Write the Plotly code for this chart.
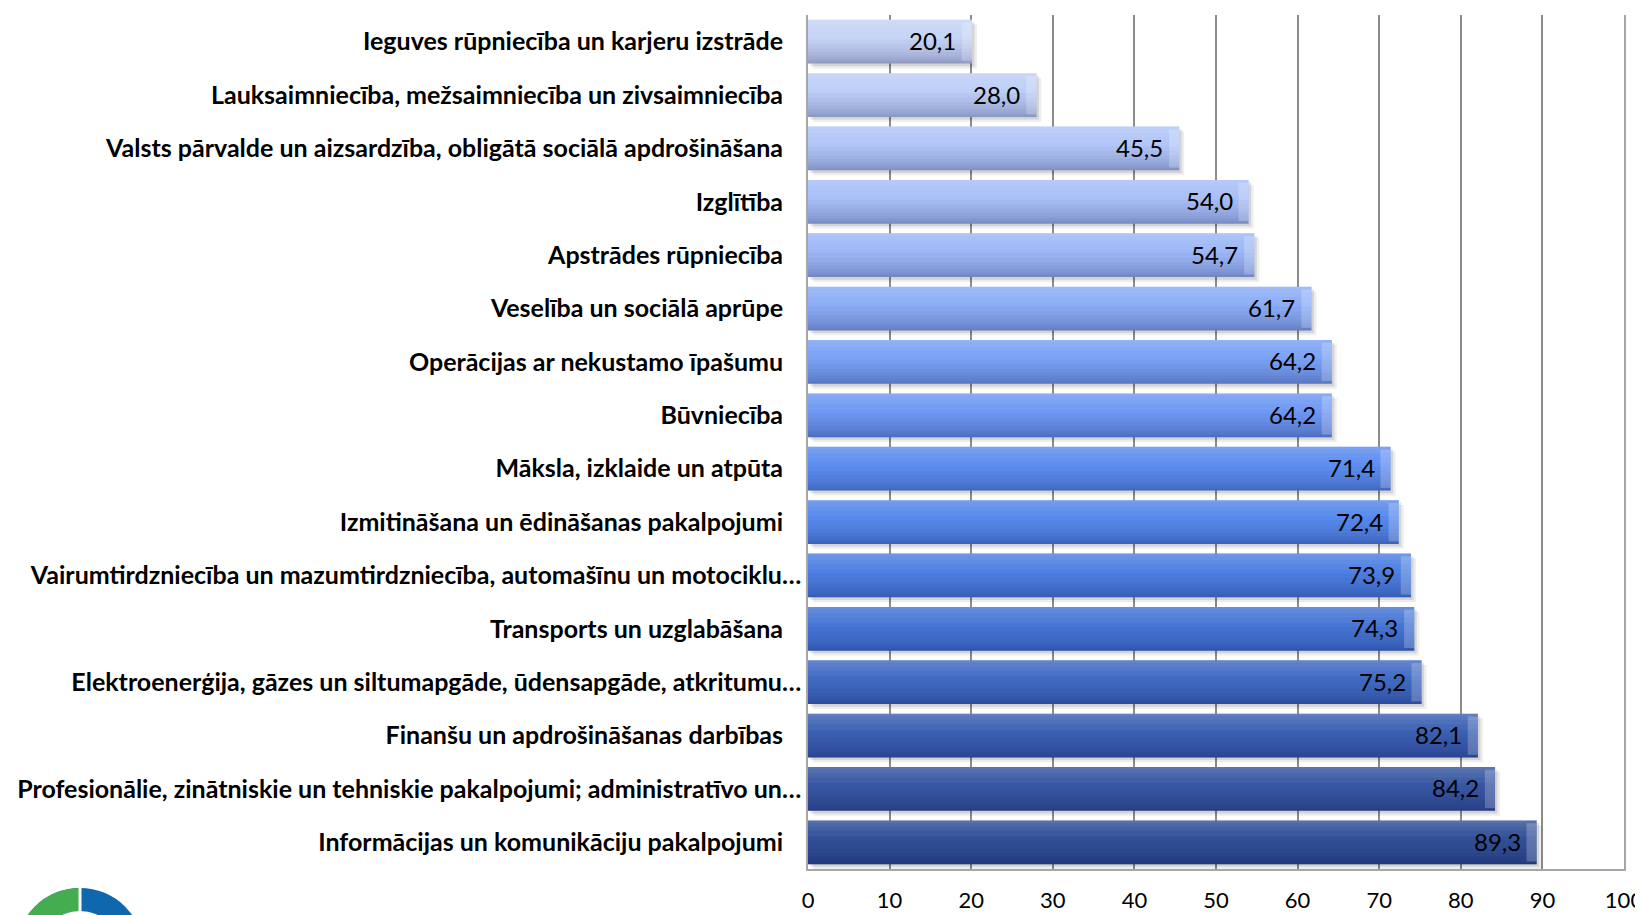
import plotly.graph_objects as go

categories = [
    "Ieguves rūpniecība un karjeru izstrāde",
    "Lauksaimniecība, mežsaimniecība un zivsaimniecība",
    "Valsts pārvalde un aizsardzība, obligātā sociālā apdrošināšana",
    "Izglītība",
    "Apstrādes rūpniecība",
    "Veselība un sociālā aprūpe",
    "Operācijas ar nekustamo īpašumu",
    "Būvniecība",
    "Māksla, izklaide un atpūta",
    "Izmitināšana un ēdināšanas pakalpojumi",
    "Vairumtirdzniecība un mazumtirdzniecība, automašīnu un motociklu…",
    "Transports un uzglabāšana",
    "Elektroenerģija, gāzes un siltumapgāde, ūdensapgāde, atkritumu…",
    "Finanšu un apdrošināšanas darbības",
    "Profesionālie, zinātniskie un tehniskie pakalpojumi; administratīvo un…",
    "Informācijas un komunikāciju pakalpojumi",
]
values = [20.1, 28.0, 45.5, 54.0, 54.7, 61.7, 64.2, 64.2, 71.4, 72.4, 73.9, 74.3, 75.2, 82.1, 84.2, 89.3]
x_ticks = [0, 10, 20, 30, 40, 50, 60, 70, 80, 90, 100]

bar_colors = [
    "#c6d4f6", "#bdcef7", "#b2c7f8", "#a8bff8", "#9eb8f7", "#8cadf6",
    "#7aa2f5", "#6e98f3", "#5d8ef1", "#5689ed", "#4d80e2", "#4776d6",
    "#416bc3", "#3c60b3", "#3757a2", "#325098",
]

keys = list(range(len(categories)))
value_text = [f"{v:.1f}".replace(".", ",") for v in values]
ticktext = [c if c.endswith("…") else c + "\u00a0" * 3 for c in categories]

BW = 0.82
fig = go.Figure()


def overlay(width, offset, color, base=None, xs=None):
    fig.add_trace(go.Bar(y=keys, x=values if xs is None else xs, base=base, orientation="h",
                         width=width, offset=offset,
                         marker=dict(color=color, line=dict(width=0)), hoverinfo="skip"))


# soft drop shadow
overlay(BW, -BW / 2 + 0.09, "rgba(0,0,0,0.07)", base=0.6)
overlay(BW, -BW / 2 + 0.05, "rgba(0,0,0,0.10)", base=0.3)
# main bars
fig.add_trace(go.Bar(y=keys, x=values, orientation="h", width=BW, offset=-BW / 2,
                     marker=dict(color=bar_colors, line=dict(width=0)),
                     hovertemplate="%{x}<extra></extra>"))
# top highlight (gradient)
for w in (0.3, 0.2, 0.12, 0.05):
    overlay(w, -BW / 2, "rgba(255,255,255,0.05)")
# lower shading (gradient)
for w in (0.45, 0.36, 0.28, 0.21, 0.15, 0.1, 0.06, 0.03):
    overlay(w, BW / 2 - w, "rgba(0,0,50,0.035)")
# right bevel
bev = 1.25
overlay(BW - 0.1, -BW / 2 + 0.05, "rgba(255,255,255,0.22)", base=[v - bev for v in values], xs=[bev] * len(values))

for k, v, t in zip(keys, values, value_text):
    fig.add_annotation(x=v, y=k, text=t, showarrow=False, xanchor="right", xshift=-14, yshift=1,
                       font=dict(family="Lato", size=24, color="#000000"))

# logo (decorative), pixel-sized relative to plot bottom-left
cx, cy = -728, -83


def circ(r, color):
    return dict(type="circle", xref="paper", yref="paper", xsizemode="pixel", ysizemode="pixel",
                xanchor=0, yanchor=0, x0=cx - r, x1=cx + r, y0=cy - r, y1=cy + r,
                fillcolor=color, line=dict(width=0), layer="above")


def half(r, color):
    import math
    pts = []
    for i in range(0, 37):
        a = math.pi / 2 + math.pi * i / 36
        pts.append((cx + r * math.cos(a), cy + r * math.sin(a)))
    path = "M " + " L ".join(f"{x:.2f},{y:.2f}" for x, y in pts) + " Z"
    return dict(type="path", xref="paper", yref="paper", xsizemode="pixel", ysizemode="pixel",
                xanchor=0, yanchor=0, path=path, fillcolor=color, line=dict(width=0), layer="above")


def gap(r):
    return dict(type="rect", xref="paper", yref="paper", xsizemode="pixel", ysizemode="pixel",
                xanchor=0, yanchor=0, x0=cx - 1.5, x1=cx + 1.5, y0=cy - r, y1=cy + r,
                fillcolor="white", line=dict(width=0), layer="above")


shapes = [circ(64, "#0f68ad"), half(64, "#43ad4f"), circ(41, "white"),
          circ(33, "#0f68ad"), half(33, "#43ad4f"), circ(26, "white"), gap(66)]

fig.update_layout(
    width=1643, height=915,
    margin=dict(l=800, r=27, t=7, b=54),
    barmode="overlay",
    showlegend=False,
    plot_bgcolor="white",
    paper_bgcolor="white",
    shapes=shapes,
    xaxis=dict(range=[0, 100], tickvals=x_ticks, ticktext=[str(t) for t in x_ticks],
               showgrid=True, gridcolor="#8c8c8c", gridwidth=1.5, zeroline=False,
               showline=True, linecolor="#a6a6a6", linewidth=1.5, automargin=False,
               ticks="", ticklabelstandoff=11, ticklabeloverflow="allow",
               tickfont=dict(family="Lato", size=22, color="#000000")),
    yaxis=dict(tickvals=keys, ticktext=ticktext, autorange="reversed", range=[-0.5, 15.5],
               showgrid=False, zeroline=False, showline=True, mirror=True, automargin=False,
               linecolor="#a6a6a6", linewidth=1.5, ticks="", ticklabelstandoff=0,
               tickfont=dict(family="Lato", size=25, color="#000000", weight="bold")),
)

fig.write_html("out.html")
